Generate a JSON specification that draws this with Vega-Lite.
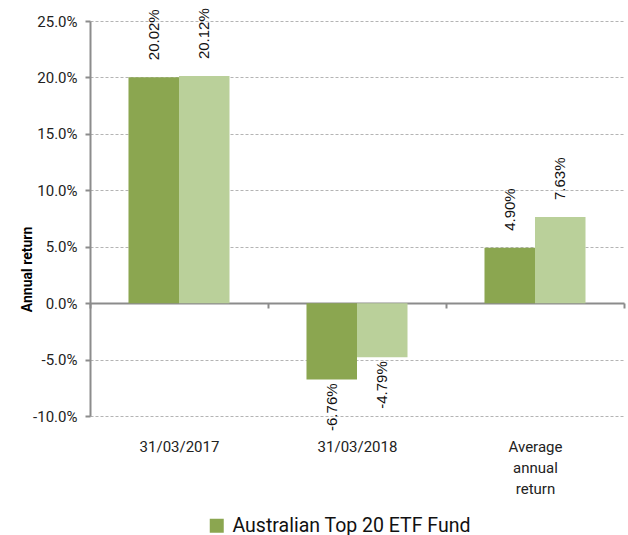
{
  "$schema": "https://vega.github.io/schema/vega-lite/v6.json",
  "width": 534,
  "height": 395,
  "autosize": {"type": "none"},
  "padding": {"left": 90, "top": 21, "right": 4, "bottom": 119},
  "background": "white",
  "config": {
    "view": {"stroke": null},
    "font": "Roboto",
    "axis": {"labelFont": "Roboto", "titleFont": "Roboto"}
  },
  "data": {
    "values": [
      {"period": "31/03/2017", "series": "Australian Top 20 ETF Fund", "value": 0.2002, "label": "20.02%"},
      {"period": "31/03/2017", "series": "Benchmark", "value": 0.2012, "label": "20.12%"},
      {"period": "31/03/2018", "series": "Australian Top 20 ETF Fund", "value": -0.0676, "label": "-6.76%"},
      {"period": "31/03/2018", "series": "Benchmark", "value": -0.0479, "label": "-4.79%"},
      {"period": "Average annual return", "series": "Australian Top 20 ETF Fund", "value": 0.049, "label": "4.90%"},
      {"period": "Average annual return", "series": "Benchmark", "value": 0.0763, "label": "7.63%"}
    ]
  },
  "encoding": {
    "x": {
      "field": "period",
      "type": "nominal",
      "sort": null,
      "scale": {"paddingInner": 0, "paddingOuter": 0},
      "axis": {
        "title": null,
        "labelAngle": 0,
        "labelFontSize": 15,
        "labelColor": "#222222",
        "labelBaseline": "top",
        "labelLineHeight": 21,
        "labelExpr": "datum.label == 'Average annual return' ? ['Average', 'annual', 'return'] : datum.label",
        "offset": -113,
        "domain": true,
        "domainColor": "#8c8c8c",
        "domainWidth": 2,
        "ticks": true,
        "tickBand": "extent",
        "tickColor": "#8c8c8c",
        "tickWidth": 2,
        "tickSize": 5,
        "labelPadding": 131,
        "grid": false
      }
    },
    "xOffset": {
      "field": "series",
      "type": "nominal",
      "sort": null,
      "scale": {"paddingInner": 0, "paddingOuter": 0.762}
    },
    "y": {
      "field": "value",
      "type": "quantitative",
      "scale": {"domain": [-0.1, 0.25], "nice": false, "zero": false},
      "axis": {
        "title": "Annual return",
        "titleFontSize": 14,
        "titleFontWeight": "bold",
        "titleColor": "#000000",
        "titlePadding": -2,
        "titleY": 248,
        "titleAlign": "center",
        "format": ".1%",
        "labelExpr": "replace(datum.label, '\u2212', '-')",
        "values": [-0.1, -0.05, 0, 0.05, 0.1, 0.15, 0.2, 0.25],
        "labelFontSize": 15,
        "labelColor": "#222222",
        "labelPadding": 8,
        "domainColor": "#8c8c8c",
        "domainWidth": 2,
        "tickColor": "#8c8c8c",
        "tickWidth": 2,
        "tickSize": 5,
        "grid": true,
        "gridColor": "#b4b4b4",
        "gridDash": [3, 2],
        "gridWidth": 1
      }
    }
  },
  "layer": [
    {
      "mark": {"type": "bar"},
      "encoding": {
        "color": {
          "field": "series",
          "type": "nominal",
          "sort": null,
          "scale": {
            "domain": ["Australian Top 20 ETF Fund", "Benchmark"],
            "range": ["#8ba650", "#bad09a"]
          },
          "legend": {
            "title": null,
            "orient": "none",
            "legendX": 117,
            "legendY": 495,
            "direction": "vertical",
            "symbolType": "square",
            "symbolSize": 196,
            "symbolStrokeWidth": 0,
            "labelFont": "Roboto",
            "labelFontSize": 19.5,
            "labelLimit": 500,
            "labelColor": "#111111",
            "labelOffset": 6,
            "rowPadding": 8
          }
        }
      }
    },
    {
      "transform": [{"filter": "datum.value >= 0"}],
      "mark": {
        "type": "text",
        "angle": 270,
        "align": "left",
        "baseline": "middle",
        "dx": 17,
        "font": "Liberation Sans",
        "fontSize": 15,
        "color": "#111111"
      },
      "encoding": {
        "text": {"field": "label", "type": "nominal"}
      }
    },
    {
      "transform": [{"filter": "datum.value < 0"}],
      "mark": {
        "type": "text",
        "angle": 270,
        "align": "right",
        "baseline": "middle",
        "dx": -4,
        "font": "Liberation Sans",
        "fontSize": 15,
        "color": "#111111"
      },
      "encoding": {
        "text": {"field": "label", "type": "nominal"}
      }
    }
  ]
}
